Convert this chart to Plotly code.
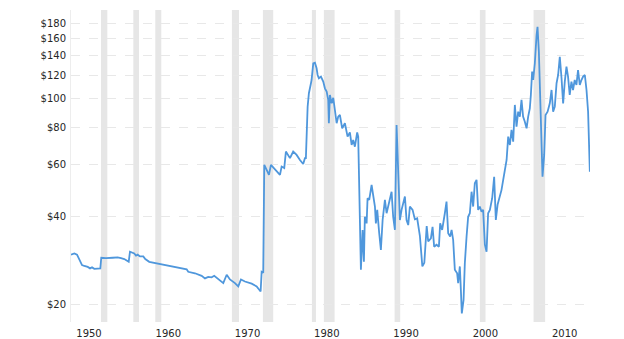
import plotly.graph_objects as go

years = [1947.73, 1948.15, 1948.49, 1948.78, 1949.12, 1949.41, 1949.84, 1950.13, 1950.38, 1950.67,
         1951.10, 1951.43, 1951.55, 1952.14, 1952.99, 1953.62, 1954.04, 1954.45, 1955.01, 1955.17,
         1955.71, 1955.93, 1956.14, 1956.43, 1956.85, 1957.10, 1957.60, 1958.45, 1959.29, 1960.13,
         1960.86, 1962.32, 1962.52, 1963.37, 1964.21, 1964.63, 1965.04, 1965.47, 1965.80, 1966.31,
         1966.94, 1967.37, 1967.78, 1968.41, 1968.83, 1969.17, 1969.67, 1970.52, 1971.15, 1971.65,
         1971.78, 1971.98, 1972.11, 1972.41, 1972.70, 1972.95, 1973.46, 1974.09, 1974.30, 1974.63,
         1974.84, 1975.13, 1975.35, 1975.76, 1976.19, 1976.61, 1977.02, 1977.24, 1977.36, 1977.58,
         1977.74, 1978.00, 1978.08, 1978.29, 1978.50, 1978.71, 1978.84, 1979.00, 1979.26, 1979.55,
         1979.76, 1979.98, 1980.18, 1980.26, 1980.39, 1980.61, 1980.81, 1981.02, 1981.24, 1981.44,
         1981.65, 1981.94, 1982.28, 1982.62, 1982.91, 1983.13, 1983.33, 1983.54, 1983.83, 1983.96,
         1984.17, 1984.30, 1984.51, 1984.68, 1984.80, 1985.02, 1985.14, 1985.35, 1985.65, 1985.85,
         1986.07, 1986.19, 1986.36, 1986.61, 1986.82, 1987.04, 1987.33, 1987.54, 1987.87, 1988.17,
         1988.37, 1988.59, 1988.80, 1989.00, 1989.22, 1989.43, 1989.85, 1990.06, 1990.27, 1990.48,
         1990.82, 1991.11, 1991.40, 1991.74, 1992.05, 1992.30, 1992.60, 1992.79, 1993.13, 1993.34,
         1993.54, 1993.84, 1994.14, 1994.30, 1994.55, 1994.89, 1995.10, 1995.31, 1995.56, 1995.74,
         1995.94, 1996.15, 1996.44, 1996.57, 1996.78, 1996.91, 1997.03, 1997.25, 1997.41, 1997.63,
         1997.83, 1998.04, 1998.26, 1998.46, 1998.67, 1998.89, 1999.09, 1999.30, 1999.52, 1999.72,
         1999.94, 2000.15, 2000.35, 2000.57, 2000.86, 2001.11, 2001.32, 2001.54, 2001.83, 2002.04,
         2002.25, 2002.46, 2002.68, 2002.88, 2003.09, 2003.30, 2003.51, 2003.72, 2003.93, 2004.14,
         2004.35, 2004.56, 2004.76, 2004.98, 2005.20, 2005.40, 2005.61, 2005.74, 2005.90, 2006.03,
         2006.24, 2006.46, 2006.58, 2006.75, 2006.91, 2007.09, 2007.21, 2007.42, 2007.59, 2007.85,
         2008.13, 2008.35, 2008.55, 2008.76, 2008.98, 2009.18, 2009.39, 2009.61, 2009.81, 2010.02,
         2010.23, 2010.43, 2010.64, 2010.86, 2011.06, 2011.27, 2011.49, 2011.69, 2011.91, 2012.12,
         2012.33, 2012.55, 2012.76, 2012.96, 2013.18]

prices = [29.6, 29.9, 29.6, 28.4, 27.3, 27.1, 26.9, 26.6, 26.8, 26.5,
          26.5, 26.6, 28.9, 28.8, 28.9, 29.0, 28.8, 28.6, 28.0, 30.3,
          29.9, 29.4, 29.6, 29.2, 29.2, 28.6, 28.0, 27.7, 27.5, 27.2,
          26.9, 26.4, 25.9, 25.6, 25.1, 24.6, 24.9, 24.8, 25.1, 24.4,
          23.7, 25.3, 24.4, 23.7, 23.1, 24.4, 24.0, 23.6, 23.1, 22.2,
          25.9, 25.7, 59.7, 57.4, 55.2, 59.7, 57.7, 55.2, 58.9, 58.2,
          66.2, 64.5, 62.9, 66.2, 64.5, 62.0, 60.1, 62.9, 62.9, 94.0,
          104.4, 112.9, 115.8, 131.9, 132.5, 126.9, 120.4, 117.4, 118.9, 114.3,
          108.5, 105.7, 99.1, 82.6, 103.0, 96.6, 100.7, 91.6, 82.6, 87.0,
          88.1, 79.4, 82.6, 74.4, 76.9, 69.7, 72.5, 68.8, 76.9, 74.4,
          40.9, 26.3, 35.9, 28.0, 39.8, 37.8, 46.0, 45.4, 51.0, 46.6,
          43.1, 37.8, 42.0, 35.0, 30.7, 38.8, 45.4, 40.9, 44.2, 48.4,
          39.8, 35.9, 81.5, 53.1, 38.8, 42.0, 46.6, 38.8, 37.3, 43.1,
          42.0, 39.0, 39.3, 34.3, 27.0, 27.8, 37.0, 32.8, 33.6, 36.8,
          31.5, 32.0, 31.5, 37.8, 35.9, 40.9, 44.8, 35.0, 34.1, 35.9,
          33.2, 26.3, 25.6, 23.7, 27.0, 22.5, 18.7, 20.8, 27.7, 34.1,
          39.8, 40.9, 48.4, 43.1, 51.7, 53.1, 42.0, 43.1, 41.4, 42.0,
          32.0, 30.3, 40.9, 42.0, 46.0, 54.4, 38.8, 43.7, 46.6, 49.1,
          53.1, 57.4, 62.0, 74.4, 69.7, 78.4, 71.5, 95.3, 80.4, 90.4,
          87.0, 99.1, 87.0, 83.6, 79.4, 87.0, 92.8, 103.0, 123.6, 115.8,
          131.9, 164.5, 175.5, 144.4, 108.5, 67.9, 54.4, 64.5, 88.1, 90.4,
          96.5, 107.1, 90.4, 94.0, 112.9, 120.4, 138.8, 117.4, 96.5, 114.3,
          128.5, 118.9, 103.0, 114.3, 107.1, 115.8, 111.4, 125.2, 111.4, 115.8,
          118.9, 120.4, 107.1, 90.4, 56.6]

recession_starts = [1951.51, 1955.59, 1958.36, 1968.03, 1971.94, 1978.12, 1979.63, 1988.55, 1999.31, 2006.08]
recession_ends = [1952.31, 1956.31, 1959.12, 1968.92, 1973.24, 1978.63, 1980.98, 1989.26, 2000.02, 2007.54]

y_tick_values = [20, 40, 60, 80, 100, 120, 140, 160, 180]
y_tick_labels = ["$20", "$40", "$60", "$80", "$100", "$120", "$140", "$160", "$180"]
x_tick_values = [1950, 1960, 1970, 1980, 1990, 2000, 2010]
x_tick_labels = ["1950", "1960", "1970", "1980", "1990", "2000", "2010"]

fig = go.Figure()
fig.add_trace(go.Scatter(
    x=years, y=prices, mode="lines",
    line=dict(color="#4f97dc", width=1.8),
    hoverinfo="skip", showlegend=False,
))

for s, e in zip(recession_starts, recession_ends):
    fig.add_shape(type="rect", xref="x", yref="paper", x0=s, x1=e, y0=0, y1=1,
                  fillcolor="#e6e6e6", line=dict(width=0), layer="below")

fig.update_layout(
    width=616, height=331,
    margin=dict(l=63, r=34, t=2, b=17, autoexpand=False),
    paper_bgcolor="white", plot_bgcolor="white",
    font=dict(family="DejaVu Sans", size=10, color="#262626"),
    showlegend=False,
)
fig.update_xaxes(
    range=[1947.73, 2013.2], tickvals=x_tick_values, ticktext=x_tick_labels,
    showgrid=False, zeroline=False, showline=False, ticks="", automargin=False,
    ticklabelstandoff=4,
)
fig.update_yaxes(
    type="log", range=[1.2430, 2.3010], tickvals=y_tick_values, ticktext=y_tick_labels,
    showgrid=True, gridcolor="#e8e8e8", griddash="dash", gridwidth=1,
    zeroline=False, showline=True, linecolor="#ededed", linewidth=1,
    ticks="", automargin=False, ticklabelstandoff=2,
)

fig.write_html("out.html")
